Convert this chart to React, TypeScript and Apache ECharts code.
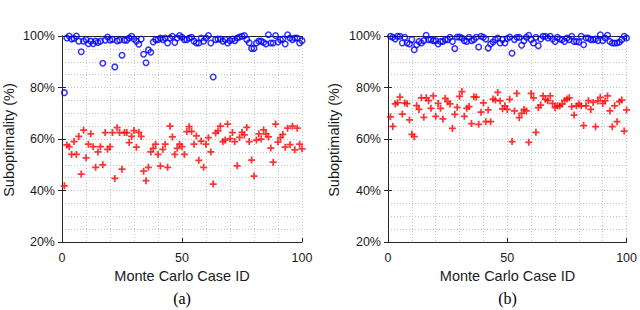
import React, { useEffect, useRef } from "react";
import * as echarts from "echarts";

// Monte Carlo case IDs 1..100
const caseIds: number[] = Array.from({ length: 100 }, (_, i) => i + 1);

const blueA: number[] = [
  78, 99.2, 100, 98.8, 99, 100, 98, 93.9, 98, 98.6,
  97, 98, 97, 98, 97.5, 98, 89.4, 98.4, 99.6, 98.4,
  98.7, 88, 98.1, 98.4, 92.5, 98.4, 98.4, 99.2, 99.9, 98.8,
  98, 96.8, 98.8, 92.9, 89.6, 94.6, 93.7, 97.7, 98.6, 98.6,
  99.2, 98.6, 99.2, 97.3, 99.2, 99.9, 97.5, 99.2, 100.2, 99.5,
  98.6, 98.6, 99.2, 99.5, 98, 97.3, 97.3, 99.2, 98, 99.2,
  100.2, 97.3, 84.1, 98.6, 98.8, 98.8, 98, 98.6, 97.3, 98.2,
  98.8, 98.2, 99.2, 99.6, 99.9, 100.2, 98.6, 97.4, 95.2, 95.2,
  97.3, 98, 98, 97.5, 96.9, 100.5, 97.3, 97.3, 100.2, 97.7,
  98.6, 98.8, 96.9, 100.5, 99.2, 98.6, 99.2, 99.2, 97.3, 98.2,
];

const redA: number[] = [
  41.8, 57.7, 57, 54, 59, 54, 61, 46.4, 63.4, 52.7,
  58, 62, 57, 49, 55, 57, 50, 62.5, 56, 57,
  62.5, 44.7, 64.4, 62.5, 48.3, 62.5, 62.5, 58.6, 61, 63.3,
  56.8, 62.6, 61, 47.5, 43.8, 49, 55, 56.4, 58, 54,
  49.5, 56, 58, 49, 65, 60.8, 54, 56.4, 58, 57,
  54, 62.9, 64.8, 63, 58, 61.2, 51.7, 59.2, 49, 58,
  60.5, 55, 42.5, 62.3, 63.2, 65, 59, 59.6, 65.8, 60.1,
  62.5, 59, 49.6, 60.6, 62.6, 61.6, 64.5, 59, 51.8, 45.6,
  59.6, 62, 60, 63.5, 62, 60.8, 56.5, 51, 65.8, 58.8,
  60.5, 61.8, 56.8, 64.2, 57.8, 65, 55.8, 64.2, 58, 56.2,
];

const blueB: number[] = [
  99.9, 99.5, 98.8, 99.9, 99.9, 97.3, 99.5, 97.3, 96.9, 98.6,
  94.7, 96.6, 97.9, 97.3, 98.2, 100.3, 98.6, 98.6, 98.2, 98.2,
  96.9, 97.9, 97.9, 98.6, 98.6, 99.5, 97.9, 95.1, 99.6, 99.6,
  99.2, 98.2, 97.9, 99.5, 98.2, 98.6, 99.5, 95.7, 99.9, 99.5,
  98.8, 95.3, 96.9, 97.7, 98.6, 99.2, 97.3, 98.6, 97.3, 99,
  99.6, 93.3, 98.6, 99.5, 99.5, 96.4, 98.2, 99.5, 100.3, 98.6,
  97.3, 99.5, 96.2, 98.8, 99.9, 99.9, 99.2, 99.9, 98.8, 97.9,
  99.5, 98.8, 98.6, 97.9, 99.2, 98.6, 99.9, 97.9, 97.9, 97.7,
  99.9, 96.6, 99.2, 99.2, 98.6, 98.6, 98.8, 98.2, 100.5, 98.2,
  99.2, 100.3, 97.9, 97.3, 97.3, 97.3, 97.7, 98.6, 99.9, 99.2,
];

const redB: number[] = [
  68.6, 64.9, 73.6, 74.1, 76.3, 69.7, 74, 73.7, 67.4, 61.8,
  60.9, 73, 71.5, 76, 68.4, 76, 74.9, 71.9, 76.7, 68.8,
  73.8, 71.9, 67.8, 75.8, 74.5, 73.6, 64.1, 69.6, 72.3, 76.6,
  78.4, 68.8, 71.9, 72.6, 66, 76.4, 76.3, 65.7, 70.4, 74,
  66.7, 71.3, 66.7, 75.5, 75.1, 78.1, 74.8, 71.7, 72.9, 71.5,
  75.4, 59, 70.9, 77.7, 68.3, 70, 71.5, 70.9, 58.7, 77.7,
  76, 62.6, 72.2, 73.2, 76.7, 75.4, 74.9, 76.7, 73.8, 72.2,
  72.9, 72.8, 73.5, 75, 75.5, 76, 72.6, 69.3, 72.9, 73.6,
  72.9, 65.2, 72.9, 74.9, 71.5, 74.2, 64.8, 74.8, 76.2, 73.8,
  74.8, 76.7, 70.9, 64.8, 72.9, 66.7, 74.5, 75.1, 63.1, 71.3,
];

const xTickLabels: number[] = [0, 50, 100];
const yTickLabels: string[] = ["20%", "40%", "60%", "80%", "100%"];
const panelLabels: string[] = ["(a)", "(b)"];
const xAxisTitle = "Monte Carlo Case ID";
const yAxisTitle = "Suboptimality (%)";

const AXIS_COLOR = "#262626";
const GRID_COLOR = "#c4c4c4";
const SANS = "Liberation Sans, Arial, Helvetica, sans-serif";
const PLUS = "path://M3,0H5V3H8V5H5V8H3V5H0V3H3Z";

export default function App() {
  const ref = useRef<HTMLDivElement>(null);

  useEffect(() => {
    if (!ref.current) return;
    const chart = echarts.init(ref.current, undefined, { renderer: "svg" });

    const grids = [
      { left: 62, top: 36, width: 240, height: 206 },
      { left: 388, top: 36, width: 239, height: 206 },
    ];

    const xAxes: any[] = [];
    const yAxes: any[] = [];
    grids.forEach((_, gi) => {
      xAxes.push({
        type: "value",
        gridIndex: gi,
        min: 0,
        max: 100,
        interval: 50,
        position: "bottom",
        axisLine: { show: true, lineStyle: { color: AXIS_COLOR, width: 1 } },
        axisTick: { show: true, inside: true, length: 4, lineStyle: { color: AXIS_COLOR } },
        axisLabel: {
          show: true,
          margin: 9,
          color: "#1a1a1a",
          fontSize: 12.5,
          fontFamily: SANS,
          formatter: (v: number) => (xTickLabels.includes(v) ? String(v) : ""),
        },
        splitLine: { show: true, lineStyle: { color: GRID_COLOR, type: [1, 2], width: 1 } },
        minorTick: { show: false, splitNumber: 5 },
        minorSplitLine: { show: true, lineStyle: { color: GRID_COLOR, type: [1, 2], width: 1 } },
      });
      xAxes.push({
        type: "value",
        gridIndex: gi,
        min: 0,
        max: 100,
        interval: 50,
        position: "top",
        axisLine: { show: true, lineStyle: { color: AXIS_COLOR, width: 1 } },
        axisTick: { show: true, inside: true, length: 4, lineStyle: { color: AXIS_COLOR } },
        axisLabel: { show: false },
        splitLine: { show: false },
      });
      yAxes.push({
        type: "value",
        gridIndex: gi,
        min: 20,
        max: 100,
        interval: 20,
        position: "left",
        axisLine: { show: true, lineStyle: { color: AXIS_COLOR, width: 1 } },
        axisTick: { show: true, inside: true, length: 4, lineStyle: { color: AXIS_COLOR } },
        axisLabel: {
          show: true,
          margin: 7,
          color: "#1a1a1a",
          fontSize: 12.5,
          fontFamily: SANS,
          formatter: (v: number) => {
            const s = `${v}%`;
            return yTickLabels.includes(s) ? s : "";
          },
        },
        splitLine: { show: true, lineStyle: { color: GRID_COLOR, type: [1, 2], width: 1 } },
        minorTick: { show: false, splitNumber: 4 },
        minorSplitLine: { show: true, lineStyle: { color: GRID_COLOR, type: [1, 2], width: 1 } },
      });
      yAxes.push({
        type: "value",
        gridIndex: gi,
        min: 20,
        max: 100,
        interval: 20,
        position: "right",
        axisLine: { show: true, lineStyle: { color: AXIS_COLOR, width: 1 } },
        axisTick: { show: true, inside: true, length: 4, lineStyle: { color: AXIS_COLOR } },
        axisLabel: { show: false },
        splitLine: { show: false },
      });
    });

    const blueStyle = {
      color: "rgba(0,0,0,0)",
      borderColor: "#0000ff",
      borderWidth: 1.5,
    };
    const redStyle = { color: "#ff0000" };

    const toPts = (vals: number[]) => vals.map((v, i) => [caseIds[i], v]);

    const series: any[] = [
      {
        type: "scatter",
        xAxisIndex: 0,
        yAxisIndex: 0,
        data: toPts(redA),
        symbol: PLUS,
        symbolSize: 7,
        itemStyle: redStyle,
        clip: false,
      },
      {
        type: "scatter",
        xAxisIndex: 0,
        yAxisIndex: 0,
        data: toPts(blueA),
        symbol: "circle",
        symbolSize: 5.5,
        itemStyle: blueStyle,
        clip: false,
      },
      {
        type: "scatter",
        xAxisIndex: 2,
        yAxisIndex: 2,
        data: toPts(redB),
        symbol: PLUS,
        symbolSize: 7,
        itemStyle: redStyle,
        clip: false,
      },
      {
        type: "scatter",
        xAxisIndex: 2,
        yAxisIndex: 2,
        data: toPts(blueB),
        symbol: "circle",
        symbolSize: 5.5,
        itemStyle: blueStyle,
        clip: false,
      },
    ];

    const graphic: any[] = [];
    grids.forEach((g, gi) => {
      const cx = g.left + g.width / 2;
      graphic.push({
        type: "text",
        x: cx,
        y: 276,
        style: {
          text: xAxisTitle,
          font: `14.5px ${SANS}`,
          fill: "#1a1a1a",
          textAlign: "center",
          textVerticalAlign: "middle",
        },
      });
      graphic.push({
        type: "text",
        x: cx,
        y: 298,
        style: {
          text: panelLabels[gi],
          font: `16px "Liberation Serif", "Times New Roman", serif`,
          fill: "#000",
          textAlign: "center",
          textVerticalAlign: "middle",
        },
      });
      graphic.push({
        type: "text",
        x: gi === 0 ? 9 : 334,
        y: 140,
        rotation: Math.PI / 2,
        style: {
          text: yAxisTitle,
          font: `14.5px ${SANS}`,
          fill: "#1a1a1a",
          textAlign: "center",
          textVerticalAlign: "middle",
        },
      });
    });

    chart.setOption({
      animation: false,
      backgroundColor: "#ffffff",
      grid: grids.map((g) => ({ ...g, containLabel: false })),
      xAxis: xAxes,
      yAxis: yAxes,
      series,
      graphic,
    });

    return () => chart.dispose();
  }, []);

  return (
    <div
      ref={ref}
      style={{ position: "absolute", left: 0, top: 0, width: 640, height: 310 }}
    />
  );
}
